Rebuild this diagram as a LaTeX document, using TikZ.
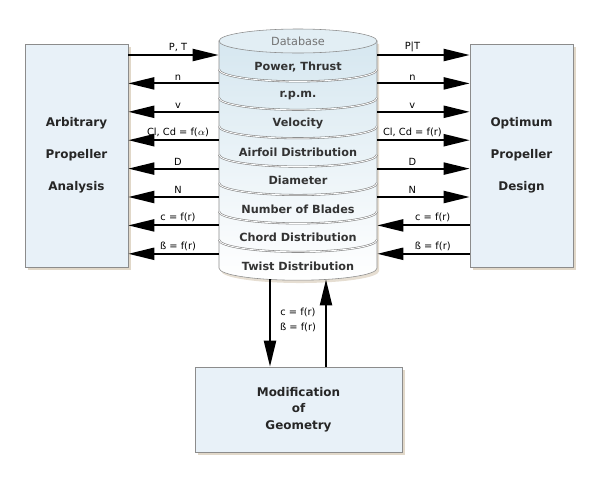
\documentclass[tikz,border=0pt]{standalone}
\usepackage{fontspec}
\setmainfont{DejaVu Sans}
\usetikzlibrary{
	arrows.meta,
	positioning,
	shadows
}

\definecolor{caixa}{RGB}{232,241,248}
\definecolor{cilindro}{RGB}{214,231,240}
\definecolor{sombra}{RGB}{205,190,165}

\begin{document}
\begin{tikzpicture}[
			font=\fontsize{7}{8}\selectfont,
			bloco/.style={draw=black!45, fill=caixa, minimum width=2.575cm, minimum height=5.575cm, align=center, text=black!85,
					font=\fontsize{8.5}{22.7}\selectfont\bfseries,
					drop shadow={shadow xshift=2pt, shadow yshift=-2pt, fill=sombra, opacity=0.6}},
			camada/.style={minimum width=3.95cm, inner sep=0pt, font=\fontsize{8}{9}\selectfont\bfseries, text=black!80},
			seta/.style={-{Triangle[length=6.5mm, width=3mm]}, line width=1.5pt},
			rot/.style={font=\fontsize{7}{8}\selectfont, inner sep=1.5pt},
			sep/.style={draw=black!50, double=white, double distance=0.6pt}
		]
		\useasboundingbox (0,0) rectangle (15,-12);

		% blocos
		\node[bloco] (esq) at (1.9125,-3.8875) {Arbitrary\\ Propeller\\ Analysis};
		\node[bloco] (dir) at (13.0375,-3.8875) {Optimum\\ Propeller\\ Design};
		\node[bloco, minimum width=5.175cm, minimum height=2.125cm, font=\fontsize{8.5}{11.7}\selectfont\bfseries] (mod) at (7.4625,-10.2375) {Modification\\ of\\ Geometry};

		% base de dados
		\path[draw=black!45, top color=cilindro, bottom color=white,
			drop shadow={shadow xshift=1.5pt, shadow yshift=-2pt, fill=sombra, opacity=0.5}] (5.475,-1.025) -- (5.475,-6.705)
		arc[start angle=180, end angle=360, x radius=1.975cm, y radius=0.3cm] -- (9.425,-1.025) -- cycle;
		\draw[draw=black!45, fill=cilindro!70] (7.45,-1.025) ellipse[x radius=1.975cm, y radius=0.3cm];
		\node[text=black!55, font=\fontsize{8}{9}\selectfont] (db) at (7.45,-1.025) {Database};
		\foreach \k in {1,...,7} {
				\draw[sep] (5.475,{-1.025-0.71*\k}) arc[start angle=180, end angle=360, x radius=1.975cm, y radius=0.3cm];
			}

		\foreach \txt [count=\i] in {{Power, Thrust}, {r.p.m.}, {Velocity}, {Airfoil Distribution}, {Diameter}, {Number of Blades}, {Chord Distribution}, {Twist Distribution}} {
				\node[camada] (cam\i) at (7.45,{-1.675-0.71*(\i-1)}) {\txt};
				\coordinate (e\i) at ([yshift=0.3cm]cam\i.west);
				\coordinate (d\i) at ([yshift=0.3cm]cam\i.east);
			}
		\coordinate (fundo1) at (6.75,-6.985);
		\coordinate (fundo2) at (8.15,-6.985);

		% lado esquerdo
		\draw[seta] (esq.east |- e1) -- node[rot, above, pos=0.55] {P, T} (e1);
		\foreach \i/\lab in {2/n, 3/v, 4/{Cl, Cd = f($\alpha$)}, 5/D, 6/N, 7/{c = f(r)}, 8/{ß = f(r)}} {
				\draw[seta] (e\i) -- node[rot, above, pos=0.45] {\lab} (esq.east |- e\i);
			}

		% lado direito
		\foreach \i/\lab in {1/P|T, 2/n, 3/v, 4/{Cl, Cd = f(r)}, 5/D, 6/N} {
				\draw[seta] (d\i) -- node[rot, above, pos=0.38] {\lab} (dir.west |- d\i);
			}
		\foreach \i/\lab in {7/{c = f(r)}, 8/{ß = f(r)}} {
				\draw[seta] (dir.west |- d\i) -- node[rot, above, pos=0.4] {\lab} (d\i);
			}

		% geometria
		\draw[seta] (fundo1) -- (fundo1 |- mod.north);
		\draw[seta] (fundo2 |- mod.north) -- (fundo2);
		\node[rot, align=center, font=\fontsize{7}{10.6}\selectfont] (geo) at (7.45,-7.99) {c = f(r)\\ ß = f(r)};
	\end{tikzpicture}
\end{document}
